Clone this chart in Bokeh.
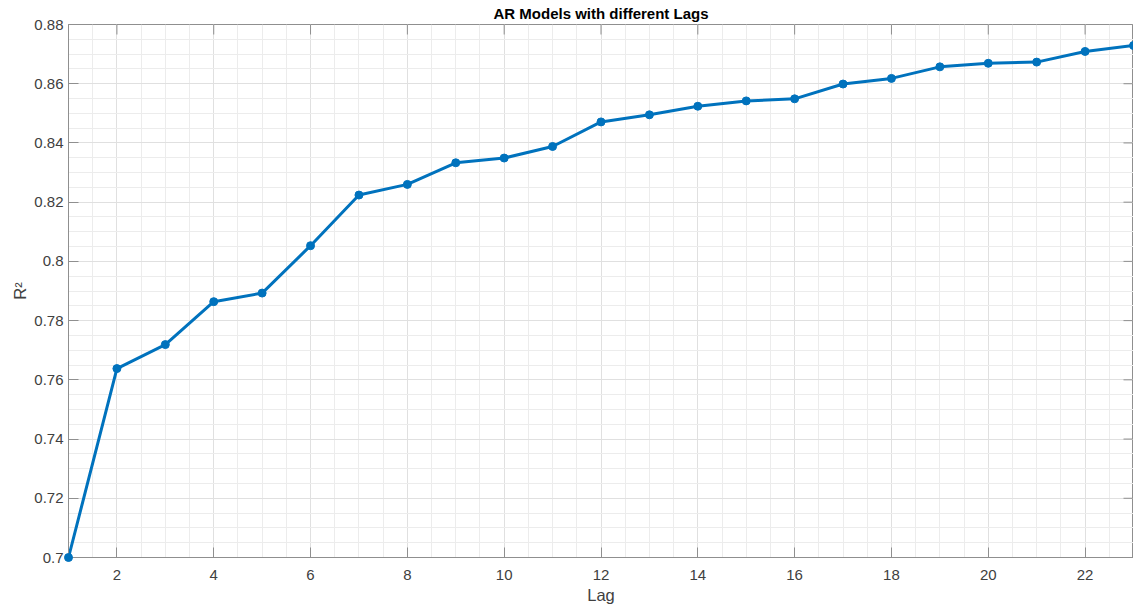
import numpy as np
from bokeh.plotting import figure
from bokeh.models import FixedTicker, Range1d, ColumnDataSource
from bokeh.embed import file_html
from bokeh.resources import INLINE

# ---- data ----
lags = list(range(1, 24))
r2 = [0.7000, 0.7638, 0.7719, 0.7864, 0.7893, 0.8053, 0.8224, 0.8260,
      0.8333, 0.8349, 0.8388, 0.8471, 0.8495, 0.8524, 0.8542, 0.8549,
      0.8599, 0.8618, 0.8657, 0.8669, 0.8673, 0.8709, 0.8729]

x_ticks = [2, 4, 6, 8, 10, 12, 14, 16, 18, 20, 22]
x_tick_labels = ["2", "4", "6", "8", "10", "12", "14", "16", "18", "20", "22"]
y_ticks = [0.70, 0.72, 0.74, 0.76, 0.78, 0.80, 0.82, 0.84, 0.86, 0.88]
y_tick_labels = ["0.7", "0.72", "0.74", "0.76", "0.78", "0.8", "0.82", "0.84", "0.86", "0.88"]

title_text = "AR Models with different Lags"
x_label = "Lag"
y_label = "R\u00b2"

x_min, x_max = 1, 23
y_min, y_max = 0.70, 0.88

FONT = "Liberation Sans"
AXIS_GRAY = "#8f8f8f"
LABEL_GRAY = "#404040"
LINE_BLUE = "#0072BD"

p = figure(width=1133, height=606, output_backend="svg", toolbar_location=None,
           x_range=Range1d(x_min, x_max), y_range=Range1d(y_min, y_max),
           min_border_left=68, min_border_right=0, min_border_top=23,
           min_border_bottom=49)

# title
p.title.text = title_text
p.title.align = "center"
p.title.text_font = FONT
p.title.text_font_size = "15px"
p.title.text_font_style = "bold"
p.title.text_color = "#000000"
p.title.standoff = 5
p.title.offset = 0

# tickers
x_minor = list(np.arange(x_min, x_max + 0.001, 0.5))
y_minor = list(np.round(np.arange(y_min, y_max + 0.0001, 0.005), 4))
p.xaxis.ticker = FixedTicker(ticks=x_ticks, minor_ticks=x_minor)
p.yaxis.ticker = FixedTicker(ticks=y_ticks, minor_ticks=y_minor)
p.xaxis.major_label_overrides = {t: l for t, l in zip(x_ticks, x_tick_labels)}
p.yaxis.major_label_overrides = {t: l for t, l in zip(y_ticks, y_tick_labels)}

for ax in (p.xaxis, p.yaxis):
    ax.axis_line_color = AXIS_GRAY
    ax.major_tick_line_color = AXIS_GRAY
    ax.major_tick_in = 10
    ax.major_tick_out = 0
    ax.minor_tick_in = 0
    ax.minor_tick_out = 0
    ax.minor_tick_line_color = None
    ax.major_label_text_font = FONT
    ax.major_label_text_font_size = "15px"
    ax.major_label_text_color = LABEL_GRAY
    ax.axis_label_text_font = FONT
    ax.axis_label_text_font_size = "16.5px"
    ax.axis_label_text_font_style = "normal"
    ax.axis_label_text_color = LABEL_GRAY

p.xaxis.axis_label = x_label
p.yaxis.axis_label = y_label
p.xaxis.major_label_standoff = 12
p.xaxis.axis_label_standoff = 3
p.yaxis.major_label_standoff = 5
p.yaxis.axis_label_standoff = 2

# grids
for g in (p.xgrid, p.ygrid):
    g.grid_line_color = "#e0e0e0"
    g.grid_line_width = 1
    g.minor_grid_line_color = "#ececec"
    g.minor_grid_line_width = 1

p.outline_line_color = AXIS_GRAY
p.outline_line_width = 1
p.background_fill_color = "white"
p.border_fill_color = "white"

# top and right tick marks (box ticks), drawn from the tick lists, clipped by the frame
top_src = ColumnDataSource(dict(x=x_ticks, y=[y_max] * len(x_ticks)))
p.scatter("x", "y", source=top_src, marker="dash", angle=np.pi / 2, size=20,
          line_color=AXIS_GRAY, line_width=1)
right_src = ColumnDataSource(dict(x=[x_max] * len(y_ticks), y=y_ticks))
p.scatter("x", "y", source=right_src, marker="dash", angle=0, size=20,
          line_color=AXIS_GRAY, line_width=1)

# data (overlay level so end markers are not clipped by the frame)
src = ColumnDataSource(dict(lag=lags, r2=r2))
p.line("lag", "r2", source=src, line_color=LINE_BLUE, line_width=3)
p.scatter("lag", "r2", source=src, size=8, fill_color=LINE_BLUE, line_color=LINE_BLUE,
          level="overlay")

open("out.html", "w").write(file_html(p, INLINE))
